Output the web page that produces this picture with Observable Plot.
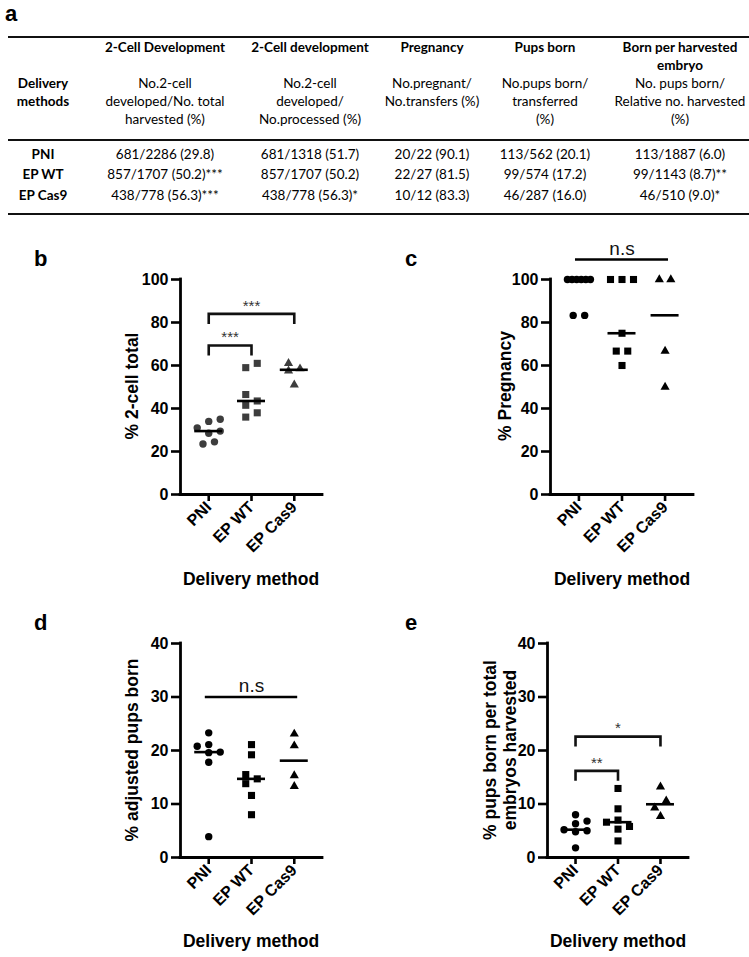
<!DOCTYPE html>
<html>
<head>
<meta charset="utf-8">
<script src="https://cdn.jsdelivr.net/npm/d3@7"></script>
<script src="https://cdn.jsdelivr.net/npm/@observablehq/plot@0.6"></script>
<style>
html,body{margin:0;padding:0;background:#fff;}
#root{position:relative;width:749px;height:957px;overflow:hidden;background:#fff;}
.t{position:absolute;white-space:nowrap;transform:translate(-50%,-50%);font-family:Lato,"Liberation Sans",sans-serif;font-size:13.5px;color:#000;line-height:1.2;}
.b{font-weight:bold;}
.hr{position:absolute;left:8px;width:741px;background:#111;}
.lbl{position:absolute;white-space:pre;text-align:center;font-family:"Liberation Sans",Arial,sans-serif;font-weight:bold;color:#000;line-height:20px;}
.panel{position:absolute;}
</style>
</head>
<body>
<div id="root"></div>
<script>
// ---------- data ----------
const methods = ["PNI", "EP WT", "EP Cas9"];

const tableRowHeader = ["Delivery", "methods"];
const tableTitles = [["2-Cell Development"], ["2-Cell development"], ["Pregnancy"], ["Pups born"], ["Born per harvested", "embryo"]];
const tableSubtitles = [
  ["No.2-cell", "developed/No. total", "harvested (%)"],
  ["No.2-cell", "developed/", "No.processed (%)"],
  ["No.pregnant/", "No.transfers (%)"],
  ["No.pups born/", "transferred", "(%)"],
  ["No. pups born/", "Relative no. harvested", "(%)"]
];
const rowPNI = ["681/2286 (29.8)", "681/1318 (51.7)", "20/22 (90.1)", "113/562 (20.1)", "113/1887 (6.0)"];
const rowEPWT = ["857/1707 (50.2)***", "857/1707 (50.2)", "22/27 (81.5)", "99/574 (17.2)", "99/1143 (8.7)**"];
const rowEPCas9 = ["438/778 (56.3)***", "438/778 (56.3)*", "10/12 (83.3)", "46/287 (16.0)", "46/510 (9.0)*"];

// panel b: % 2-cell total
const twoCellPNI = [23.5, 24.5, 28.5, 29.5, 31, 34, 35];
const twoCellEPWT = [36, 38, 41.5, 43.5, 46.5, 59, 61];
const twoCellEPCas9 = [51, 57.5, 58.5, 61];
// panel c: % pregnancy
const pregPNI = [100, 100, 100, 100, 100, 100, 83.3, 83.3];
const pregEPWT = [100, 100, 100, 75, 66.7, 66.7, 60];
const pregEPCas9 = [100, 100, 66.7, 50];
// panel d: % adjusted pups born
const pupsPNI = [23.3, 21.1, 20.8, 19.7, 19.6, 17.8, 3.9];
const pupsEPWT = [21.1, 19.2, 15.5, 14.7, 13.8, 11.6, 8.0];
const pupsEPCas9 = [23.1, 20.9, 15.3, 13.3];
// panel e: % pups born per total embryos harvested
const harvPNI = [8.0, 6.8, 6.3, 5.2, 5.0, 4.8, 1.8];
const harvEPWT = [12.9, 9.1, 7.0, 6.6, 5.8, 5.3, 3.1];
const harvEPCas9 = [13.2, 10.6, 9.3, 7.7];

// significance annotations: [from, to, label, level]
const sigTwoCell = [["PNI", "EP WT", "***", 69.3], ["PNI", "EP Cas9", "***", 84]];
const sigPreg = [["PNI", "EP Cas9", "n.s", 109.3]];
const sigPups = [["PNI", "EP Cas9", "n.s", 30]];
const sigHarv = [["PNI", "EP WT", "**", 16.2], ["PNI", "EP Cas9", "*", 22.6]];

// ---------- helpers ----------
const root = document.getElementById("root");
function div(cls, text, css) {
  const el = document.createElement("div");
  el.className = cls;
  el.textContent = text;
  Object.assign(el.style, css);
  root.appendChild(el);
  return el;
}

// ---------- table (a) ----------
div("lbl", "a", {left: "5px", top: "1px", fontSize: "22px", lineHeight: "26px"});
div("hr", "", {top: "36px", height: "2px"});
div("hr", "", {top: "139px", height: "2px"});
div("hr", "", {top: "213px", height: "1.5px"});
const colX = [43, 165, 310, 432, 545, 680];
const lineY = [47, 65, 83, 101, 119];
tableRowHeader.forEach((s, k) => div("t b", s, {left: colX[0] + "px", top: lineY[2 + k] + "px"}));
tableTitles.forEach((lines, c) => lines.forEach((s, k) => div("t b", s, {left: colX[c + 1] + "px", top: lineY[k] + "px"})));
tableSubtitles.forEach((lines, c) => lines.forEach((s, k) => div("t", s, {left: colX[c + 1] + "px", top: lineY[2 + k] + "px"})));
const rowsY = [154, 174, 195];
[rowPNI, rowEPWT, rowEPCas9].forEach((row, r) => {
  div("t b", methods[r], {left: colX[0] + "px", top: rowsY[r] + "px"});
  row.forEach((s, c) => div("t", s, {left: colX[c + 1] + "px", top: rowsY[r] + "px"}));
});

// ---------- scatter panels ----------
function swarm(values, pxPerUnit, d, s, maxSpan) {
  const pts = values.map(v => ({v, py: v * pxPerUnit})).sort((a, b) => a.py - b.py);
  const order = [0, 1, -1, 2, -2, 3, -3, 4, -4, 5, -5];
  const placed = [];
  for (const p of pts) {
    for (const c of order) {
      if (!placed.some(q => q.col === c && Math.abs(q.py - p.py) < d)) { p.col = c; break; }
    }
    placed.push(p);
  }
  const clusters = [];
  let cur = [pts[0]];
  for (let i = 1; i < pts.length; i++) {
    if (pts[i].py - pts[i - 1].py < d) cur.push(pts[i]);
    else { clusters.push(cur); cur = [pts[i]]; }
  }
  clusters.push(cur);
  for (const cl of clusters) {
    const shift = Math.round(d3.mean(cl, p => p.col) * 2) / 2;
    const span = d3.max(cl, p => p.col) - d3.min(cl, p => p.col);
    const sp = span > 0 ? Math.min(s, maxSpan / span) : s;
    cl.forEach(p => p.off = (p.col - shift) * sp);
  }
  return pts;
}

const symbols = ["circle", "square", "triangle"];
const radii = [3.7, 4.0, 3.4];

function makePanel(cfg) {
  const xDomain = [-0.66, 2.66];
  const {left, top, width, height, axisPx, endPx, topPx, bottomPx, yMax, yStep, series, color, sig} = cfg;
  const pxPerUnit = (bottomPx - topPx) / yMax;
  const stepPx = (endPx - axisPx) / (xDomain[1] - xDomain[0]);
  const legLen = 10 / pxPerUnit;
  const halfMed = 14 / stepPx;
  const marks = [];
  series.forEach((vals, i) => {
    const pts = swarm(vals, pxPerUnit, 7, 11.5, 23).map(p => ({x: i + p.off / stepPx, y: p.v}));
    marks.push(Plot.dot(pts, {x: "x", y: "y", symbol: symbols[i], r: radii[i], fill: color, stroke: "none"}));
  });
  series.forEach((vals, i) => {
    const m = d3.median(vals);
    marks.push(Plot.ruleY([{y: m, x1: i - halfMed, x2: i + halfMed}], {y: "y", x1: "x1", x2: "x2", stroke: "#000", strokeWidth: 2.6}));
  });
  sig.forEach(([a, b, label, level]) => {
    const xa = methods.indexOf(a), xb = methods.indexOf(b);
    if (label === "n.s") {
      marks.push(Plot.ruleY([{y: level, x1: xa - 0.08, x2: xb + 0.08}], {y: "y", x1: "x1", x2: "x2", stroke: "#000", strokeWidth: 2.6}));
      marks.push(Plot.text([{x: (xa + xb) / 2, y: level, t: label}], {x: "x", y: "y", text: "t", dy: -11, fontSize: 19, fontWeight: "normal", fill: "#111"}));
    } else {
      const path = [{x: xa, y: level - legLen}, {x: xa, y: level}, {x: xb, y: level}, {x: xb, y: level - legLen}];
      marks.push(Plot.line(path, {x: "x", y: "y", stroke: "#111", strokeWidth: 2.6, strokeLinejoin: "miter", strokeLinecap: "butt", strokeMiterlimit: 4}));
      marks.push(Plot.text([{x: (xa + xb) / 2, y: level, t: label}], {x: "x", y: "y", text: "t", dy: -8, fontSize: 15, fontWeight: "normal", fill: "#333"}));
    }
  });
  marks.push(Plot.ruleY([0], {x1: xDomain[0], x2: xDomain[1], stroke: "#000", strokeWidth: 2.8, strokeLinecap: "square"}));
  marks.push(Plot.ruleX([xDomain[0]], {y1: 0, y2: yMax, stroke: "#000", strokeWidth: 2.8, strokeLinecap: "square"}));
  marks.push(Plot.axisY({ticks: d3.range(0, yMax + 0.001, yStep), tickSize: 9, tickPadding: 3, strokeWidth: 2.6, label: null, fontSize: 16, fontWeight: "bold"}));
  marks.push(Plot.axisX({ticks: [0, 1, 2], tickFormat: i => methods[i], tickSize: 7, tickPadding: 3, strokeWidth: 2.6, tickRotate: -45, textAnchor: "end", lineAnchor: "middle", label: null, fontSize: 16, fontWeight: "bold"}));
  const svg = Plot.plot({
    width, height,
    marginLeft: axisPx - left, marginRight: left + width - endPx,
    marginTop: topPx - top, marginBottom: top + height - bottomPx,
    x: {domain: xDomain},
    y: {domain: [0, yMax]},
    style: {fontFamily: "'Liberation Sans', Arial, sans-serif", fontSize: "16px", fontWeight: "bold", color: "#000", background: "transparent", overflow: "visible"},
    marks
  });
  svg.classList.add("panel");
  svg.style.position = "absolute";
  svg.style.left = left + "px";
  svg.style.top = top + "px";
  root.appendChild(svg);
}

makePanel({left: 0, top: 240, width: 340, height: 370, axisPx: 180, endPx: 322, topPx: 279, bottomPx: 494, yMax: 100, yStep: 20,
  series: [twoCellPNI, twoCellEPWT, twoCellEPCas9], color: "#3d3d3d", sig: sigTwoCell});
makePanel({left: 375, top: 240, width: 340, height: 370, axisPx: 550, endPx: 693, topPx: 279, bottomPx: 494, yMax: 100, yStep: 20,
  series: [pregPNI, pregEPWT, pregEPCas9], color: "#000", sig: sigPreg});
makePanel({left: 0, top: 600, width: 340, height: 357, axisPx: 180, endPx: 322, topPx: 643, bottomPx: 857, yMax: 40, yStep: 10,
  series: [pupsPNI, pupsEPWT, pupsEPCas9], color: "#000", sig: sigPups});
makePanel({left: 375, top: 600, width: 340, height: 357, axisPx: 547, endPx: 688, topPx: 643, bottomPx: 857, yMax: 40, yStep: 10,
  series: [harvPNI, harvEPWT, harvEPCas9], color: "#000", sig: sigHarv});

// panel letters
[["b", 34, 247], ["c", 405, 247], ["d", 34, 611], ["e", 405, 611]].forEach(([s, x, y]) =>
  div("lbl", s, {left: x + "px", top: y + "px", fontSize: "22px", lineHeight: "24px"}));

// axis titles
function title(text, cx, cy, rotate) {
  return div("lbl", text, {left: cx + "px", top: cy + "px", fontSize: "17.5px",
    transform: "translate(-50%,-50%)" + (rotate ? " rotate(-90deg)" : "")});
}
title("% 2-cell total", 132, 386, true);
title("% Pregnancy", 505, 386, true);
title("% adjusted pups born", 132, 750, true);
title("% pups born per total\nembryos harvested", 500, 750, true);
title("Delivery method", 251, 579, false);
title("Delivery method", 622, 579, false);
title("Delivery method", 251, 941, false);
title("Delivery method", 618, 941, false);
</script>
</body>
</html>
